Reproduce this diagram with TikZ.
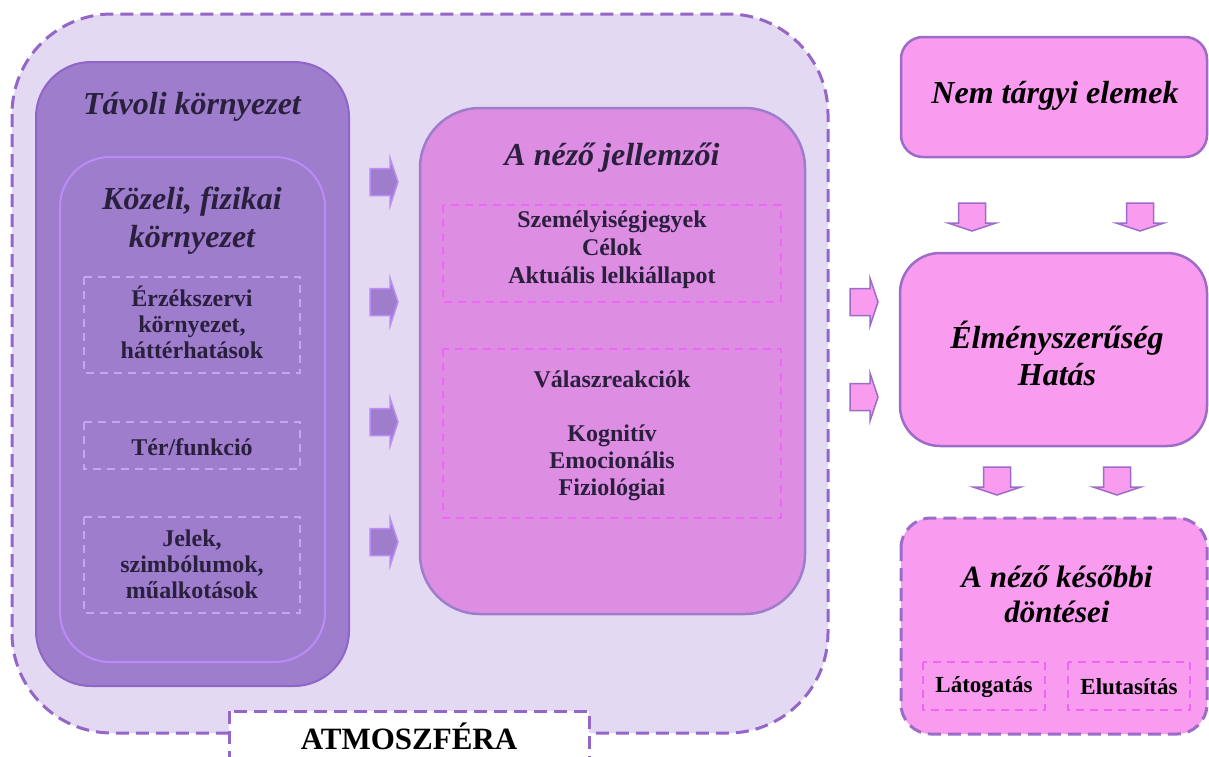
\documentclass[tikz,border=0pt]{standalone}
\usepackage{fontspec}
\setmainfont{Liberation Serif}
\definecolor{atmfill}{HTML}{E4D9F2}
\definecolor{atmdash}{HTML}{9466C8}
\definecolor{farfill}{HTML}{9E7DCD}
\definecolor{farline}{HTML}{8E66C8}
\definecolor{nearline}{HTML}{BB8CF5}
\definecolor{lightdash}{HTML}{C9A2F5}
\definecolor{viewfill}{HTML}{DD8DE2}
\definecolor{viewline}{HTML}{9E7ECC}
\definecolor{magdash}{HTML}{EE66F5}
\definecolor{pinkfill}{HTML}{F99BEE}
\definecolor{pinkline}{HTML}{9B6CC8}
\definecolor{darktext}{HTML}{2A1F3D}
\begin{document}
\begin{tikzpicture}[x=1pt,y=-1pt,
  titlefont/.style={font=\fontsize{32}{38}\selectfont\bfseries\itshape},
  bodyfont/.style={font=\fontsize{24}{26}\selectfont\bfseries},
  lbl/.style={inner sep=0pt, align=center, text=darktext},
  rarrow/.pic={\path[pic actions] (-14,-13.5)--(6,-13.5)--(6,-24)--(14,0)--(6,24)--(6,13.5)--(-14,13.5)--cycle;},
  purplearrow/.style={fill=farfill, draw=nearline, line width=1.5pt},
  pinkarrow/.style={fill=pinkfill, draw=pinkline, line width=1.5pt},
  dashbox/.style={line width=2pt, dash pattern=on 8pt off 6pt}
]
\useasboundingbox (0,0) rectangle (1209,756);
% atmosphere
\draw[fill=atmfill, draw=atmdash, line width=3pt, dash pattern=on 13pt off 7pt, rounded corners=100pt] (12,14) rectangle (828,733);
% far environment
\draw[fill=farfill, draw=farline, line width=2pt, rounded corners=55pt] (36,62) rectangle (349,686);
\draw[draw=nearline, line width=2pt, rounded corners=50pt] (60,157) rectangle (325,662);
\node[lbl, titlefont] (tavoli) at (192,107) {Távoli környezet};
\node[lbl, font=\fontsize{32}{38}\selectfont\bfseries\itshape] (kozeli) at (192,221) {Közeli, fizikai\\környezet};
\draw[dashbox, draw=lightdash] (84,277) rectangle (300,373);
\node[lbl, bodyfont] (erzek) at (192,322) {Érzékszervi\\környezet,\\háttérhatások};
\draw[dashbox, draw=lightdash] (84,422) rectangle (300,469);
\node[lbl, bodyfont] (ter) at (192,447) {Tér/funkció};
\draw[dashbox, draw=lightdash] (84,517) rectangle (300,613);
\node[lbl, bodyfont] (jelek) at (192,564) {Jelek,\\szimbólumok,\\műalkotások};
% arrows into viewer box
\pic[purplearrow] (a1) at (384,182) {rarrow};
\pic[purplearrow] (a2) at (384,302) {rarrow};
\pic[purplearrow] (a3) at (384,422) {rarrow};
\pic[purplearrow] (a4) at (384,542) {rarrow};
% viewer box
\draw[fill=viewfill, draw=viewline, line width=2.5pt, rounded corners=60pt] (420,108) rectangle (805,614);
\node[lbl, titlefont] (nezo) at (612,158) {A néző jellemzői};
\draw[dashbox, draw=magdash] (443,205) rectangle (781,302);
\node[lbl, font=\fontsize{24}{28}\selectfont\bfseries] (szem) at (612,250) {Személyiségjegyek\\Célok\\Aktuális lelkiállapot};
\draw[dashbox, draw=magdash] (443,349) rectangle (781,518);
\node[lbl, bodyfont] (valasz) at (612,379) {Válaszreakciók};
\node[lbl, font=\fontsize{24}{27}\selectfont\bfseries] (kogn) at (612,463) {Kognitív\\Emocionális\\Fiziológiai};
% atmosphere label
\draw[fill=white, draw=atmdash, line width=3pt, dash pattern=on 13pt off 7pt] (229,711) rectangle (589,790);
\node[inner sep=0pt, font=\fontsize{31}{34}\selectfont\bfseries] (atm) at (409,736) {ATMOSZFÉRA};
% right column
\draw[fill=pinkfill, draw=pinkline, line width=2.5pt, rounded corners=22pt] (901,37) rectangle (1207,157);
\node[inner sep=0pt, font=\fontsize{32}{36}\selectfont\bfseries\itshape] (nemt) at (1055,96) {Nem tárgyi elemek};
\pic[pinkarrow, rotate=-90] (d1) at (972,217) {rarrow};
\pic[pinkarrow, rotate=-90] (d2) at (1140,217) {rarrow};
\pic[pinkarrow] (r1) at (864,302) {rarrow};
\pic[pinkarrow] (r2) at (864,397) {rarrow};
\draw[fill=pinkfill, draw=pinkline, line width=2.5pt, rounded corners=40pt] (900,253) rectangle (1207,446);
\node[inner sep=0pt, align=center, font=\fontsize{32}{37}\selectfont\bfseries\itshape] (elmeny) at (1057,353) {Élményszerűség\\Hatás};
\pic[pinkarrow, rotate=-90] (d3) at (997,481) {rarrow};
\pic[pinkarrow, rotate=-90] (d4) at (1117,481) {rarrow};
\draw[fill=pinkfill, draw=pinkline, line width=3pt, dash pattern=on 13pt off 7pt, rounded corners=30pt] (901,518) rectangle (1207,734);
\node[inner sep=0pt, align=center, font=\fontsize{31}{35}\selectfont\bfseries\itshape] (kesobbi) at (1057,594) {A néző későbbi\\döntései};
\draw[dashbox, draw=magdash] (923,662) rectangle (1045,710);
\node[inner sep=0pt, font=\fontsize{23}{26}\selectfont\bfseries] (latog) at (984,687) {Látogatás};
\draw[dashbox, draw=magdash] (1068,662) rectangle (1190,710);
\node[inner sep=0pt, font=\fontsize{23}{26}\selectfont\bfseries] (eluta) at (1129,687) {Elutasítás};
\end{tikzpicture}
\end{document}
